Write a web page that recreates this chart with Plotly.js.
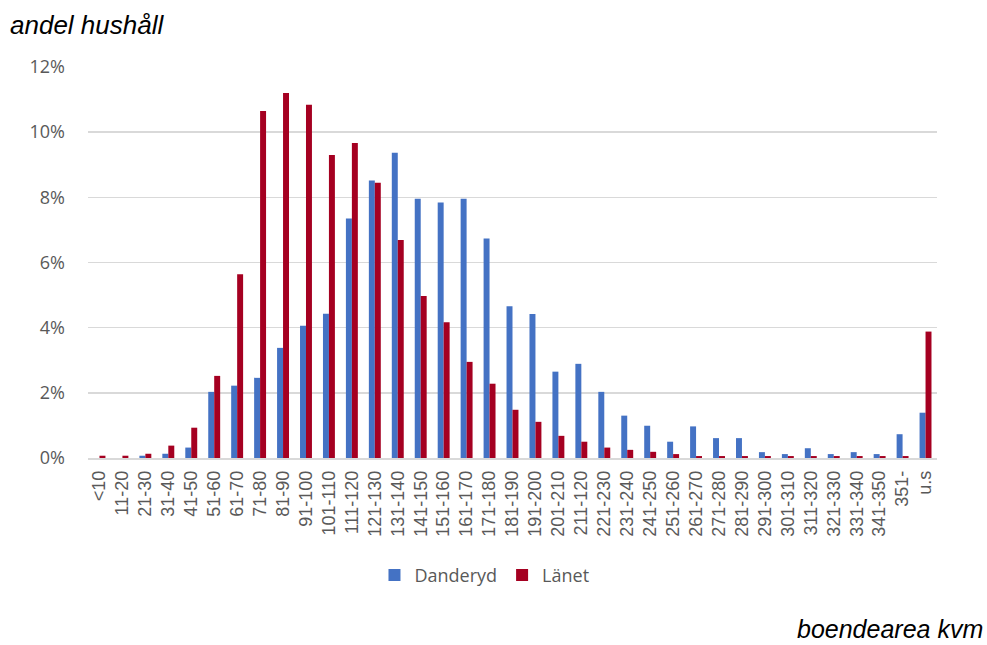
<!DOCTYPE html>
<html>
<head>
<meta charset="utf-8">
<script src="https://cdn.plot.ly/plotly-3.0.1.min.js"></script>
<style>html,body{margin:0;padding:0;background:#fff;}#chart{width:987px;height:645px;}</style>
</head>
<body>
<div id="chart"></div>
<script>
const categories = ["<10","11-20","21-30","31-40","41-50","51-60","61-70","71-80","81-90","91-100","101-110","111-120","121-130","131-140","141-150","151-160","161-170","171-180","181-190","191-200","201-210","211-120","221-230","231-240","241-250","251-260","261-270","271-280","281-290","291-300","301-310","311-320","321-330","331-340","341-350","351-","u.s"];
const danderyd = [0,0,0.07,0.13,0.32,2.03,2.22,2.46,3.38,4.06,4.43,7.35,8.52,9.37,7.96,7.84,7.96,6.74,4.66,4.42,2.65,2.89,2.03,1.30,0.99,0.50,0.97,0.61,0.61,0.18,0.12,0.30,0.12,0.18,0.12,0.73,1.39];
const lanet = [0.07,0.07,0.13,0.38,0.93,2.52,5.64,10.65,11.2,10.84,9.3,9.67,8.45,6.69,4.97,4.17,2.95,2.28,1.48,1.11,0.68,0.50,0.32,0.25,0.19,0.12,0.06,0.06,0.06,0.06,0.06,0.06,0.06,0.06,0.06,0.06,3.88];
const yTicks = [0,2,4,6,8,10,12];
const yTickText = yTicks.map(v => v + "%");

const traces = [
  {type:"bar", name:"Danderyd", x:categories, y:danderyd, marker:{color:"#4472C4"}},
  {type:"bar", name:"Länet", x:categories, y:lanet, marker:{color:"#A50021"}}
];
const layout = {
  width:987, height:645,
  margin:{l:88, r:50, t:67, b:187},
  paper_bgcolor:"#fff", plot_bgcolor:"#fff",
  barmode:"group", bargap:0.48, bargroupgap:0,
  font:{family:"Liberation Sans, Arial, sans-serif", color:"#595959"},
  xaxis:{
    type:"category", tickangle:-90, ticks:"", showgrid:false,
    showline:true, linecolor:"#d9d9d9", linewidth:1.5,
    tickfont:{size:18, color:"#595959"}, ticklabelstandoff:4
  },
  yaxis:{
    range:[0,12], tickvals:yTicks, ticktext:yTickText, ticks:"",
    showgrid:true, gridcolor:"#d9d9d9", gridwidth:1.5, zeroline:false,
    tickfont:{size:18, color:"#595959", family:"Open Sans, Liberation Sans, sans-serif"},
    ticklabelstandoff:22
  },
  showlegend:true,
  legend:{orientation:"h", x:0.467, xanchor:"center", y:-0.30, yanchor:"middle", itemwidth:30,
    font:{size:18, color:"#595959", family:"Open Sans, Liberation Sans, sans-serif"}, traceorder:"normal"},
  annotations:[
    {text:"<i>andel hushåll</i>", xref:"paper", yref:"paper", x:-0.094, xanchor:"left", y:1.108, yanchor:"middle",
     showarrow:false, font:{size:26, color:"#000", family:"Liberation Sans, Arial, sans-serif"}},
    {text:"<i>boendearea kvm</i>", xref:"paper", yref:"paper", x:1.057, xanchor:"right", y:-0.438, yanchor:"middle",
     showarrow:false, font:{size:25, color:"#000", family:"Liberation Sans, Arial, sans-serif"}}
  ]
};
Plotly.newPlot("chart", traces, layout, {displayModeBar:false, staticPlot:true});
</script>
</body>
</html>
